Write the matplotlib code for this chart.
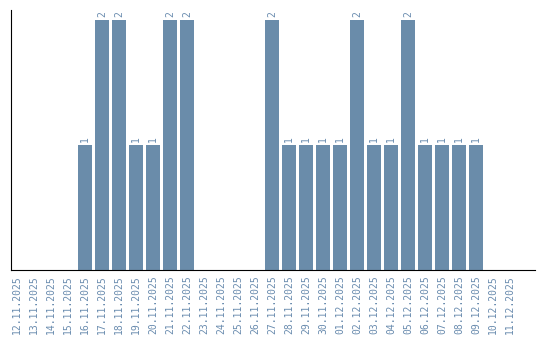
import matplotlib
matplotlib.use("Agg")
import matplotlib.pyplot as plt
import numpy as np

dates = ["12.11.2025", "13.11.2025", "14.11.2025", "15.11.2025", "16.11.2025",
         "17.11.2025", "18.11.2025", "19.11.2025", "20.11.2025", "21.11.2025",
         "22.11.2025", "23.11.2025", "24.11.2025", "25.11.2025", "26.11.2025",
         "27.11.2025", "28.11.2025", "29.11.2025", "30.11.2025", "01.12.2025",
         "02.12.2025", "03.12.2025", "04.12.2025", "05.12.2025", "06.12.2025",
         "07.12.2025", "08.12.2025", "09.12.2025", "10.12.2025", "11.12.2025"]
counts = [0, 0, 0, 0, 1, 2, 2, 1, 1, 2, 2, 0, 0, 0, 0,
          2, 1, 1, 1, 1, 2, 1, 1, 2, 1, 1, 1, 1, 0, 0]

bar_color = "#6a8caa"
text_color = "#6a8caf"

fig = plt.figure(figsize=(5.4, 3.4), dpi=100)
ax = fig.add_axes([0.0204, 0.2059, 0.9703, 0.7647])

x = np.arange(len(dates))
ax.bar(x, counts, width=0.82, color=bar_color)
for xi, c in zip(x, counts):
    if c > 0:
        ax.text(xi, c + 0.02, str(c), rotation=90, ha="center", va="bottom",
                fontsize=7, color=text_color, family="DejaVu Sans Mono")

ax.set_xlim(-0.35, 30.45)
ax.set_ylim(0, 2.08)
ax.set_xticks(x)
ax.set_xticklabels(dates, rotation=90, fontsize=7, color=text_color,
                   family="DejaVu Sans Mono")
ax.tick_params(axis="x", length=0, pad=4)
ax.set_yticks([])
for s in ["top", "right"]:
    ax.spines[s].set_visible(False)
ax.spines["left"].set_color("black")
ax.spines["bottom"].set_color("black")

fig.savefig("out.png", dpi=100)
